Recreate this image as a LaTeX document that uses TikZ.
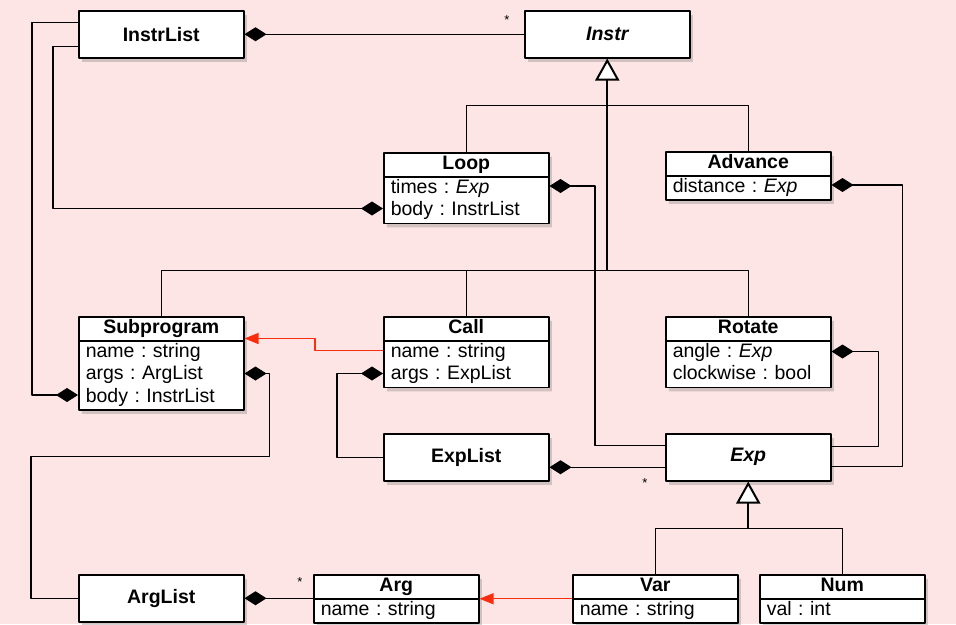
\documentclass[tikz,border=0pt]{standalone}
\usepackage{fontspec}
\setmainfont{Liberation Sans}
\usetikzlibrary{arrows.meta,shapes.multipart,shadows}
\definecolor{bgpink}{RGB}{253,229,229}
\definecolor{linkred}{RGB}{250,45,15}
\frenchspacing
\newcommand\clsname[1]{\strut\makebox[151pt]{\bfseries #1}}
\tikzset{
  umlbox/.style={draw, line width=1.5pt, fill=white, anchor=north west,
    drop shadow={shadow xshift=3pt, shadow yshift=-4pt, opacity=.35}},
  onebox/.style={umlbox, minimum width=165pt, minimum height=47pt, inner sep=0pt,
    font=\fontsize{19.5}{22.5}\selectfont\bfseries},
  twobox/.style={umlbox, rectangle split, rectangle split parts=2, text width=151pt,
    inner xsep=7pt, inner ysep=0pt, font=\fontsize{19.5}{22.5}\selectfont},
  comp/.style={{Diamond[length=22pt,width=14pt]}-, line width=1.2pt},
  inh/.style={-{Triangle[length=22pt,width=24pt,fill=white]}, line width=2pt},
  uses/.style={-{Triangle[length=14pt,width=11pt]}, linkred, line width=1.2pt},
  mult/.style={font=\fontsize{13}{13}\selectfont, inner sep=0pt}
}
\begin{document}
\begin{tikzpicture}[x=1pt, y=-1pt, line join=round]
\useasboundingbox[fill=bgpink] (0,0) rectangle (956,624);
% classes
\node[onebox] (instrlist) at (78,10) {InstrList};
\node[onebox] (instr) at (524,10) {\itshape Instr};
\node[twobox] (loop) at (383,152) {\clsname{Loop}\nodepart{two}\strut times : \textit{Exp}\\\strut body : InstrList};
\node[twobox] (advance) at (665,151) {\clsname{Advance}\nodepart{two}\strut distance : \textit{Exp}};
\node[twobox] (subprogram) at (78,316) {\clsname{Subprogram}\nodepart{two}\strut name : string\\\strut args : ArgList\\\strut body : InstrList};
\node[twobox] (call) at (383,316) {\clsname{Call}\nodepart{two}\strut name : string\\\strut args : ExpList};
\node[twobox] (rotate) at (665,316) {\clsname{Rotate}\nodepart{two}\strut angle : \textit{Exp}\\\strut clockwise : bool};
\node[onebox] (explist) at (383,433) {ExpList};
\node[onebox] (exp) at (665,433) {\itshape Exp};
\node[onebox] (arglist) at (78,574) {ArgList};
\node[twobox] (arg) at (313,574) {\clsname{Arg}\nodepart{two}\strut name : string};
\node[twobox] (var) at (572,574) {\clsname{Var}\nodepart{two}\strut name : string};
\node[twobox] (num) at (759,574) {\clsname{Num}\nodepart{two}\strut val : int};
% inheritance
\coordinate (loopbus) at ([yshift=-47pt]instr.south);
\coordinate (instrbus) at ([yshift=-212pt]instr.south);
\coordinate (expbus) at ([yshift=-47pt]exp.south);
\draw[line width=1.2pt] (loop.north) |- (loopbus) -| (advance.north);
\draw[line width=1.2pt] (subprogram.north) |- (instrbus) -| (rotate.north);
\draw[line width=1.2pt] (call.north) -- (call.north |- instrbus);
\draw[inh] (instrbus) -- (instr.south);
\draw[line width=1.2pt] (var.north) |- (expbus) -| (num.north);
\draw[inh] (expbus) -- (exp.south);
% composition
\draw[comp] (instrlist.east) -- (instr.west) node[mult, pos=1, xshift=-17pt, yshift=14pt] {*};
\draw[comp] ([yshift=-56.5pt]loop.north west) -| ([xshift=-25pt,yshift=-12.5pt]instrlist.west) -- ([yshift=-12.5pt]instrlist.west);
\draw[comp] ([yshift=-79pt]subprogram.north west) -| ([xshift=-46pt,yshift=11.5pt]instrlist.west) -- ([yshift=11.5pt]instrlist.west);
\draw[comp] ([yshift=-34pt]loop.north east) -| ([xshift=-70pt,yshift=11.5pt]exp.west) -- ([yshift=11.5pt]exp.west);
\draw[comp] ([yshift=-34pt]advance.north east) -| ([xshift=71pt,yshift=-9.5pt]exp.east) -- ([yshift=-9.5pt]exp.east);
\draw[comp] ([yshift=-35.5pt]rotate.north east) -| ([xshift=47pt,yshift=10.5pt]exp.east) -- ([yshift=10.5pt]exp.east);
\draw[comp] ([yshift=-57.5pt]call.north west) -| ([xshift=-46pt]explist.west) -- (explist.west);
\draw[comp] ([yshift=-10pt]explist.east) -- ([yshift=-10pt]exp.west) node[mult, pos=1, xshift=-20pt, yshift=-16pt] {*};
\draw[comp] ([yshift=-57.5pt]subprogram.north east) -- ++(25,0) -- ++(0,83) -| ([xshift=-47pt]arglist.west) -- (arglist.west);
\draw[comp] (arglist.east) -- (arglist.east -| arg.west) node[mult, pos=1, xshift=-13pt, yshift=16pt] {*};
% references
\draw[uses] ([yshift=-34.5pt]call.north west) -- ++(-68,0) |- ([yshift=-22.5pt]subprogram.north east);
\draw[uses] (var.west) -- (var.west -| arg.east);
\end{tikzpicture}
\end{document}
